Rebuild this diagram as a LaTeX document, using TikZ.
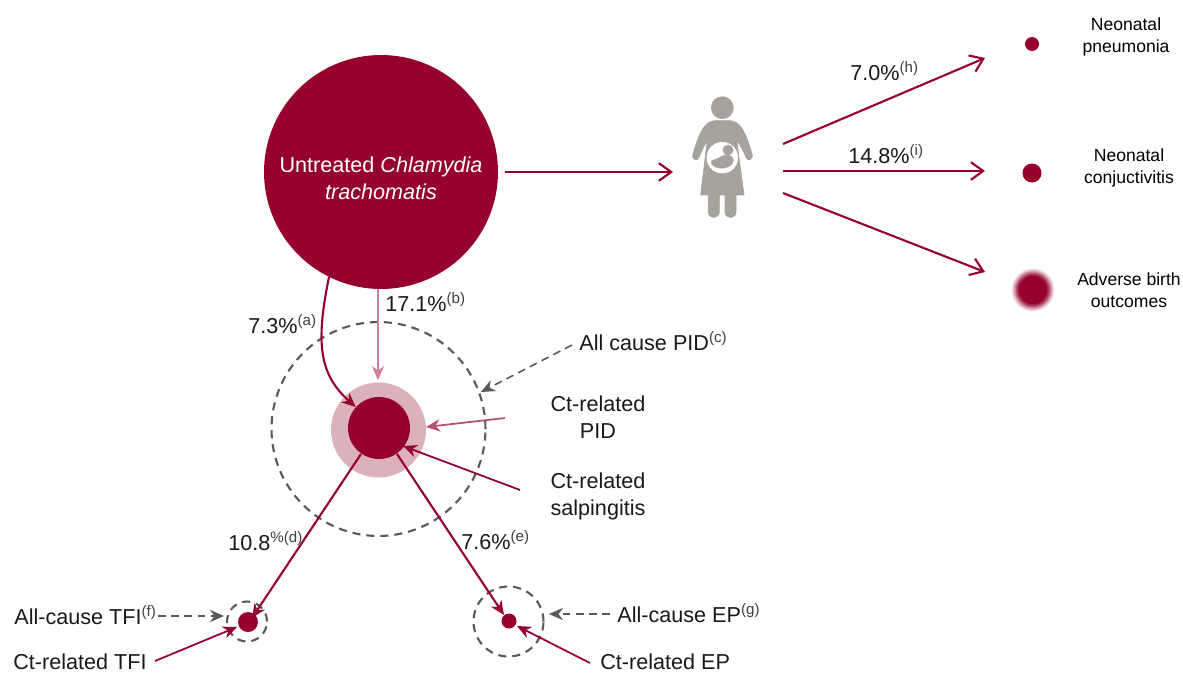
\documentclass[tikz,border=0pt]{standalone}
\usepackage{fontspec}
\usepackage{xcolor}
\setmainfont{Liberation Sans}
\usetikzlibrary{arrows.meta}
\definecolor{wine}{HTML}{96002D}
\definecolor{halo}{HTML}{DDB1BA}
\definecolor{pinkline}{HTML}{CC8099}
\definecolor{midline}{HTML}{B84F70}
\definecolor{ringgray}{HTML}{595959}
\definecolor{mothergray}{HTML}{A5A39B}
\tikzset{
  dot/.style={circle,fill=wine,inner sep=0pt},
  ring/.style={circle,draw=ringgray,line width=1.2pt,dash pattern=on 4.6pt off 3.4pt,inner sep=0pt},
  txt/.style={font=\fontsize{12.3}{15.4}\selectfont,align=center,inner sep=0pt,text=black!90},
  smalltxt/.style={font=\fontsize{10}{12.6}\selectfont,align=center,inner sep=0pt,text=black},
  link/.style={draw=wine,line width=1.2pt,-{Stealth[length=8pt,width=7pt]}},
  thin link/.style={draw=wine,line width=1pt,-{Stealth[length=8pt,width=7pt]}},
  open link/.style={draw=wine,line width=1.2pt,-{Straight Barb[length=7pt,width=10pt]}},
  dashed link/.style={draw=ringgray,line width=.9pt,dash pattern=on 4.5pt off 3pt,-{Stealth[length=8pt,width=7pt]}}
}
\newcommand{\refmark}[1]{{\color{black!75}\textsuperscript{#1}}}
\begin{document}
\begin{tikzpicture}[x=0.02cm,y=-0.02cm]
\useasboundingbox (0,0) rectangle (1183,673);

\node[dot,minimum size=4.68cm] (chlamydia) at (381,172) {};
\node[ring,minimum size=4.28cm] (allpid) at (378.5,429) {};
\node[circle,fill=halo,inner sep=0pt,minimum size=1.9cm] (pidhalo) at (378.5,430) {};
\node[dot,minimum size=1.24cm] (ctpid) at (379,428) {};
\node[ring,minimum size=.8cm] (alltfi) at (247,621.5) {};
\node[dot,minimum size=.4cm] (cttfi) at (248,622) {};
\node[ring,minimum size=1.4cm] (allep) at (508.5,621.5) {};
\node[dot,minimum size=.3cm] (ctep) at (509,621) {};
\node[dot,minimum size=.28cm] (pneumonia) at (1032,44) {};
\node[dot,minimum size=.38cm] (conjunct) at (1032,173) {};
\foreach \m/\s in {12/.86,30/.8,50/.74,70/.68,88/.62,100/.56}
  \node[dot,fill=wine!\m!white,minimum size=\s cm] (birth\m) at (1033,290) {};

\begin{scope}[shift={(660,80)},x=0.00667cm,y=-0.00667cm]
\filldraw[mothergray] (187,83) circle (33);
\filldraw[mothergray] (165,122) -- (210,122) .. controls (240,125) and (255,150) .. (277,225) .. controls (280,238) and (262,245) .. (258,232) .. controls (250,210) and (240,195) .. (230,180) -- (252,345) -- (228,345) -- (228,395) .. controls (228,418) and (195,418) .. (195,395) -- (195,345) -- (178,345) -- (178,395) .. controls (178,418) and (145,418) .. (145,395) -- (145,345) -- (122,345) -- (142,180) .. controls (135,195) and (125,210) .. (117,232) .. controls (112,245) and (95,238) .. (98,225) .. controls (120,150) and (135,125) .. (165,122) -- cycle;
\filldraw[white] (187,233) circle (46);
\filldraw[mothergray] (204,210) circle (15);
\filldraw[mothergray] (155,242) .. controls (175,240) and (185,222) .. (205,226) .. controls (225,230) and (225,250) .. (205,260) .. controls (185,268) and (165,265) .. (155,252) -- cycle;
\end{scope}
\node[inner sep=0pt,minimum size=0pt] (mother) at (722,160) {};

\coordinate (mainright) at (505,172);
\coordinate (motherleft) at (673,172);
\coordinate (upstart) at (783,144);
\coordinate (upend) at (985,58);
\coordinate (midstart) at (783,171);
\coordinate (midend) at (985,171);
\coordinate (lowstart) at (783,193);
\coordinate (lowend) at (985,272);
\coordinate (astart) at (329,277);
\coordinate (bstart) at (378,289);
\coordinate (bend) at (378,380);
\coordinate (pidstart) at (505,418);
\coordinate (pidend) at (426,427);
\coordinate (salpstart) at (520,490);
\coordinate (salpend) at (403,446);
\coordinate (dstart) at (361,454);
\coordinate (dend) at (252,618);
\coordinate (estart) at (397,454);
\coordinate (eend) at (504,615);
\coordinate (cstart) at (572,345);
\coordinate (cend) at (481,392);
\coordinate (tfiastart) at (158,616);
\coordinate (tfiaend) at (224,616);
\coordinate (epastart) at (610,614);
\coordinate (epaend) at (549,614);
\coordinate (tfistart) at (155,661);
\coordinate (tfiend) at (237,627);
\coordinate (epstart) at (590,663);
\coordinate (epend) at (517,626);

\draw[open link] (mainright) -- (motherleft);
\draw[open link] (upstart) -- (upend);
\draw[open link] (midstart) -- (midend);
\draw[open link] (lowstart) -- (lowend);
\draw[link] (astart) .. controls (315,345) and (320,375) .. (ctpid.138);
\draw[link,draw=pinkline] (bstart) -- (bend);
\draw[thin link,draw=midline] (pidstart) -- (pidend);
\draw[thin link] (salpstart) -- (salpend);
\draw[link] (dstart) -- (dend);
\draw[link] (estart) -- (eend);
\draw[dashed link] (cstart) -- (cend);
\draw[dashed link] (tfiastart) -- (tfiaend);
\draw[dashed link] (epastart) -- (epaend);
\draw[thin link] (tfistart) -- (tfiend);
\draw[thin link] (epstart) -- (epend);

\node[txt,text=white] (chlamlabel) at (381,178) {Untreated \textit{Chlamydia}\\\textit{trachomatis}};
\node[txt,anchor=west] (uplabel) at (850,71) {7.0\%\refmark{(h)}};
\node[txt,anchor=west] (midlabel) at (848,154) {14.8\%\refmark{(i)}};
\node[txt,anchor=west] (alabel) at (248,324) {7.3\%\refmark{(a)}};
\node[txt,anchor=west] (blabel) at (385,302) {17.1\%\refmark{(b)}};
\node[txt,anchor=west] (clabel) at (579,341) {All cause PID\refmark{(c)}};
\node[txt] (pidlabel) at (598,417.5) {Ct-related\\PID};
\node[txt] (salplabel) at (598,496.5) {Ct-related\\salpingitis};
\node[txt,anchor=west] (dlabel) at (228,541) {10.8\refmark{\%(d)}};
\node[txt,anchor=west] (elabel) at (461,540) {7.6\%\refmark{(e)}};
\node[txt,anchor=west] (tfialabel) at (14,615) {All-cause TFI\refmark{(f)}};
\node[txt,anchor=west] (tfilabel) at (13,662) {Ct-related TFI};
\node[txt,anchor=west] (epalabel) at (617,613) {All-cause EP\refmark{(g)}};
\node[txt,anchor=west] (eplabel) at (600,662) {Ct-related EP};
\node[smalltxt] (pneulabel) at (1126,37) {Neonatal\\pneumonia};
\node[smalltxt] (conjlabel) at (1129,168) {Neonatal\\conjuctivitis};
\node[smalltxt] (birthlabel) at (1129,290.5) {Adverse birth\\outcomes};
\end{tikzpicture}
\end{document}
